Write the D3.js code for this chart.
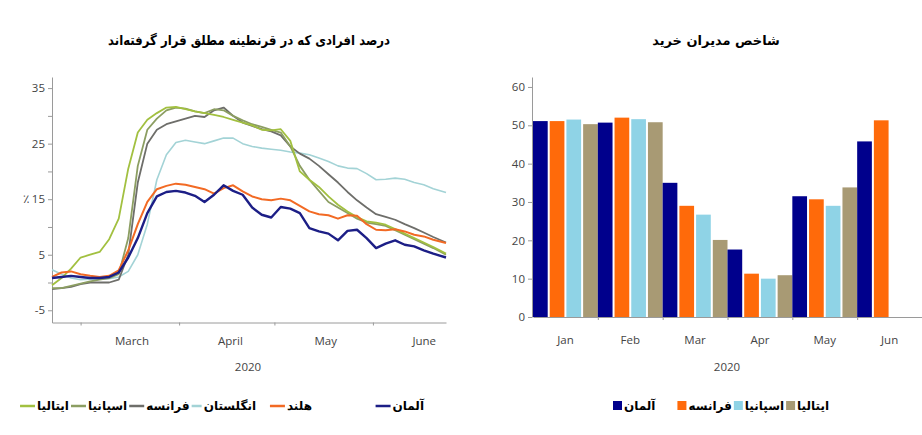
<!DOCTYPE html>
<html>
<head>
<meta charset="utf-8">
<script src="https://cdn.jsdelivr.net/npm/d3@7"></script>
<style>
  body { margin: 0; background: #fff; }
  svg text { font-family: "Open Sans", "Noto Sans", sans-serif; }
  .fa { font-family: "DejaVu Sans", sans-serif; font-weight: bold; }
  .axis path, .axis line { stroke: #9a9a9a; }
  .axis text { fill: #444; font-size: 11.5px; }
</style>
</head>
<body>
<main></main>
<script>
// ---- left chart: share of people in full lockdown (%), every 3 days
const dates = ["2020-02-21","2020-02-24","2020-02-27","2020-03-01","2020-03-04","2020-03-07","2020-03-10",
  "2020-03-13","2020-03-16","2020-03-19","2020-03-22","2020-03-25","2020-03-28","2020-03-31",
  "2020-04-03","2020-04-06","2020-04-09","2020-04-12","2020-04-15","2020-04-18","2020-04-21",
  "2020-04-24","2020-04-27","2020-04-30","2020-05-03","2020-05-06","2020-05-09","2020-05-12",
  "2020-05-15","2020-05-18","2020-05-21","2020-05-24","2020-05-27","2020-05-30","2020-06-02",
  "2020-06-05","2020-06-08","2020-06-11","2020-06-14","2020-06-17","2020-06-20","2020-06-24"];

const germany = [0.8,1.0,1.2,1.0,0.8,0.8,1.0,1.8,4.5,8.0,12.5,15.5,16.3,16.5,16.2,15.6,14.5,15.8,17.5,16.5,15.8,
  13.5,12.2,11.7,13.6,13.3,12.5,9.8,9.2,8.8,7.6,9.3,9.5,8.0,6.2,7.0,7.6,6.8,6.5,5.8,5.2,4.5];
const netherlands = [1.0,1.8,2.0,1.5,1.2,1.0,1.2,2.2,5.8,10.5,14.5,16.8,17.4,17.8,17.6,17.2,16.8,16.0,17.0,17.5,16.4,
  15.5,15.0,14.8,15.1,14.8,13.8,12.8,12.3,12.1,11.5,12.1,12.0,10.5,9.5,9.4,9.6,9.2,8.6,8.3,7.7,7.1];
const uk = [2.3,1.5,0.8,0.5,0.6,0.6,0.7,1.0,2.0,5.0,10.5,18.5,23.0,25.2,25.6,25.3,25.0,25.5,26.0,26.0,25.0,
  24.5,24.2,24.0,23.8,23.5,23.3,23.0,22.4,21.8,21.0,20.6,20.5,19.6,18.5,18.6,18.8,18.6,18.0,17.6,16.9,16.2];
const france = [-1.2,-1.0,-0.8,-0.3,0,0,0,0.5,5.0,18.0,25.0,27.5,28.5,29.0,29.5,30.0,29.8,31.0,31.5,30.0,28.8,
  28.2,27.6,27.2,26.5,24.5,23.2,22.3,21.0,19.5,18.0,16.3,14.8,13.5,12.3,11.8,11.3,10.5,9.8,9.0,8.2,7.2];
const spain = [-1.0,-1.0,-0.6,-0.2,0.2,0.5,0.8,1.5,8.0,21.0,27.5,29.5,31.0,31.5,31.3,30.8,30.5,31.2,31.0,30.0,29.2,
  28.5,28.0,27.5,27.0,24.5,21.0,18.5,16.5,14.5,13.5,12.5,11.5,10.8,10.5,10.2,9.4,8.6,7.8,7.0,6.2,5.0];
const italy = [-0.5,0.8,2.5,4.5,5.0,5.5,7.8,11.5,20.5,27.0,29.3,30.5,31.5,31.6,31.2,30.8,30.5,30.2,29.8,29.3,28.8,
  28.3,27.5,27.4,27.6,25.5,20.0,18.5,17.2,15.5,14.0,12.8,11.8,11.0,10.8,10.4,9.6,8.8,8.0,7.2,6.4,5.2];

const lineNames = ["آلمان","هلند","انگلستان","فرانسه","اسپانیا","ایتالیا"];
const leftTicks = [-5,0,5,10,15,20,25,30,35];
const leftTickLabels = {"-5":"-5","5":"5","15":"٪ 15","25":"25","35":"35"};
const leftMonths = ["March","April","May","June"];

// ---- right chart: purchasing managers index
const months = ["Jan","Feb","Mar","Apr","May","Jun"];
const pmiGermany = [51.1,50.7,35.0,17.6,31.5,45.8];
const pmiFrance  = [51.1,52.0,29.0,11.3,30.7,51.3];
const pmiSpain   = [51.5,51.6,26.7,10.0,29.0,null];
const pmiItaly   = [50.3,50.8,20.1,10.9,33.8,null];
const barNames = ["آلمان","فرانسه","اسپانیا","ایتالیا"];
const rightTicks = [0,10,20,30,40,50,60];

var svg = d3.select("main")
  .append("svg")
  .attr("width", 922)
  .attr("height", 435);

//------------------------------------------------ left chart
const parse = d3.timeParse("%Y-%m-%d");
const xL = d3.scaleTime()
  .domain([parse("2020-02-21"), parse("2020-06-24")])
  .range([52, 446]);
const yL = d3.scaleLinear()
  .domain([-7.2, 37])
  .range([322.5, 77]);

svg.append("text")
  .attr("class", "fa")
  .attr("x", 249).attr("y", 45)
  .attr("text-anchor", "middle")
  .attr("textLength", 282)
  .attr("lengthAdjust", "spacingAndGlyphs")
  .style("font-size", "13.5px")
  .text("درصد افرادی که در قرنطینه مطلق قرار گرفته‌اند");

svg.append("g")
  .attr("class", "axis")
  .attr("transform", "translate(52,0)")
  .call(d3.axisLeft(yL).tickValues(leftTicks).tickSize(4).tickSizeOuter(0)
    .tickFormat(d => leftTickLabels[d] || ""));

// month start ticks
svg.append("g")
  .attr("class", "axis")
  .attr("transform", "translate(0,322.5)")
  .call(d3.axisBottom(xL).tickValues([1,2,3,4,5].map(m => new Date(2020, m, 1)))
    .tickSize(3).tickSizeOuter(0).tickFormat(""));

// month names in the middle of each month
svg.append("g")
  .attr("class", "axis")
  .attr("transform", "translate(0,322.5)")
  .call(d3.axisBottom(xL).tickValues([2,3,4,5].map(m => new Date(2020, m, 17)))
    .tickSize(0).tickPadding(14).tickFormat((d, i) => leftMonths[i]))
  .call(g => g.select(".domain").remove());

svg.append("text")
  .attr("x", 248).attr("y", 371)
  .attr("text-anchor", "middle")
  .style("font-size", "11.5px").style("fill", "#444")
  .text("2020");

const series = [
  {name: "انگلستان", values: uk, color: "#a3d3d6", w: 1.6},
  {name: "فرانسه", values: france, color: "#6e6e6a", w: 1.8},
  {name: "اسپانیا", values: spain, color: "#8c9e62", w: 1.8},
  {name: "ایتالیا", values: italy, color: "#a2c040", w: 1.8},
  {name: "هلند", values: netherlands, color: "#f26a24", w: 2},
  {name: "آلمان", values: germany, color: "#1c1e86", w: 2.4}
];

const line = d3.line()
  .x((d, i) => xL(parse(dates[i])))
  .y(d => yL(d));

svg.selectAll(".series")
  .data(series)
  .enter()
  .append("path")
  .attr("class", "series")
  .attr("fill", "none")
  .attr("stroke", d => d.color)
  .attr("stroke-width", d => d.w)
  .attr("stroke-linejoin", "round")
  .attr("d", d => line(d.values));

// legend, drawn right to left, line left of the name
const colorOf = {};
series.forEach(s => colorOf[s.name] = s.color);
const fixedRight = [424, 312, 256];
var cursor = 0;
lineNames.forEach((name, i) => {
  var right = i < 3 ? fixedRight[i] : cursor;
  var t = svg.append("text")
    .attr("class", "fa")
    .attr("x", right).attr("y", 410)
    .attr("text-anchor", "end")
    .style("font-size", "12px")
    .text(name);
  var w = t.node().getComputedTextLength();
  var len = i == 2 ? 10 : 15;
  var x1 = right - w - 2;
  svg.append("line")
    .attr("x1", x1 - len).attr("x2", x1)
    .attr("y1", 406).attr("y2", 406)
    .attr("stroke", colorOf[name])
    .attr("stroke-width", 2.5);
  cursor = x1 - len - 2;
});

//------------------------------------------------ right chart
const xR = d3.scaleBand()
  .domain(months)
  .range([533, 922]);
const xIn = d3.scaleBand()
  .domain(barNames)
  .range([0, xR.bandwidth()])
  .paddingInner(0.12);
const yR = d3.scaleLinear()
  .domain([0, 62.6])
  .range([317, 77]);
const barColors = ["#00008c", "#ff6a0a", "#8fd3e6", "#a89a74"];
const barSeries = [pmiGermany, pmiFrance, pmiSpain, pmiItaly];

svg.append("text")
  .attr("class", "fa")
  .attr("x", 716).attr("y", 45)
  .attr("text-anchor", "middle")
  .style("font-size", "13px")
  .text("شاخص مدیران خرید");

const bars = [];
months.forEach((m, i) => {
  barSeries.forEach((s, j) => {
    if (s[i] != null) bars.push({month: m, name: barNames[j], value: s[i], color: barColors[j]});
  });
});

svg.selectAll(".bar")
  .data(bars)
  .enter()
  .append("rect")
  .attr("class", "bar")
  .attr("x", d => xR(d.month) + xIn(d.name))
  .attr("width", xIn.bandwidth())
  .attr("y", d => yR(d.value))
  .attr("height", d => yR(0) - yR(d.value))
  .attr("fill", d => d.color);

svg.append("g")
  .attr("class", "axis")
  .attr("transform", "translate(532,0)")
  .call(d3.axisLeft(yR).tickValues(rightTicks).tickSize(4).tickSizeOuter(0));

// group boundary ticks
svg.append("g")
  .attr("class", "axis")
  .attr("transform", "translate(0,317)")
  .call(d3.axisBottom(d3.scaleLinear().domain([533, 922]).range([533, 922]))
    .tickValues(months.slice(1).map(m => xR(m))).tickSize(3).tickSizeOuter(0).tickFormat(""));

svg.append("g")
  .attr("class", "axis")
  .attr("transform", "translate(0,317)")
  .call(d3.axisBottom(xR).tickSize(0).tickPadding(19))
  .call(g => g.select(".domain").remove());

svg.append("text")
  .attr("x", 727).attr("y", 371)
  .attr("text-anchor", "middle")
  .style("font-size", "11.5px").style("fill", "#444")
  .text("2020");

// legend, left to right, square left of the name
var lx = 613;
barNames.forEach((name, j) => {
  svg.append("rect")
    .attr("x", lx).attr("y", 401)
    .attr("width", 9).attr("height", 9)
    .attr("fill", barColors[j]);
  var t = svg.append("text")
    .attr("class", "fa")
    .attr("x", lx + 11).attr("y", 410)
    .style("font-size", "12px")
    .text(name);
  lx = lx + 11 + t.node().getComputedTextLength() + (j == 0 ? 22 : 2);
});
</script>
</body>
</html>
